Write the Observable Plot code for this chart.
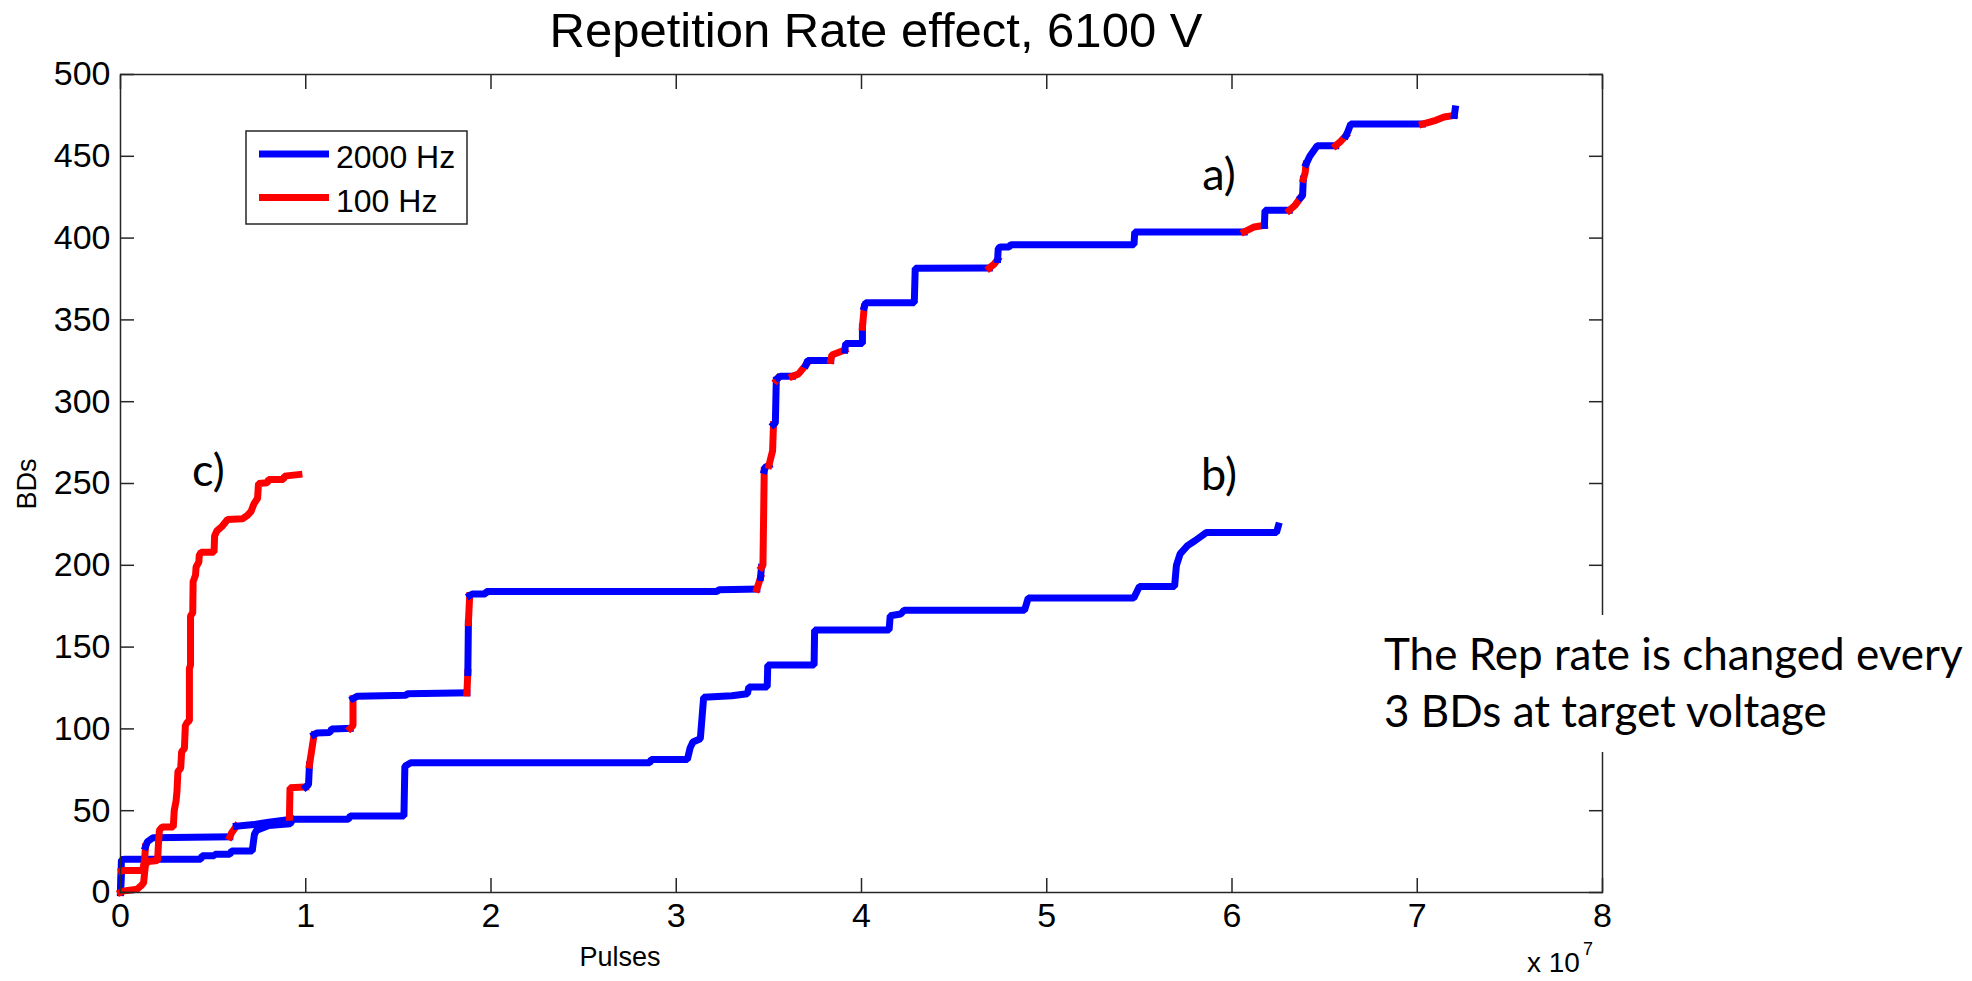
<!DOCTYPE html>
<html>
<head>
<meta charset="utf-8">
<script src="https://cdn.jsdelivr.net/npm/d3@7"></script>
<script src="https://cdn.jsdelivr.net/npm/@observablehq/plot@0.6"></script>
<style>
  html, body { margin: 0; padding: 0; background: #fff; }
  #chart { position: relative; width: 1972px; height: 981px; overflow: hidden; }
</style>
</head>
<body>
<div id="chart"></div>
<script>
// Repetition rates and their line colours
const rateLabels = ["2000 Hz", "100 Hz"];
const rateColors = ["#0000ff", "#ff0000"];

// Axis ticks
const xTicks = [0, 1, 2, 3, 4, 5, 6, 7, 8];
const yTicks = [0, 50, 100, 150, 200, 250, 300, 350, 400, 450, 500];

// Run a) — pulses (x 10^7), cumulative breakdowns, rep rate of the segment ending at each point
const aPulses = [0, 0.005, 0.02, 0.12, 0.13, 0.135, 0.145, 0.175, 0.59, 0.60, 0.625, 0.72, 0.80, 0.905, 0.912, 0.915, 1.00, 1.015, 1.02, 1.045, 1.06, 1.13, 1.14, 1.24, 1.255, 1.255, 1.28, 1.54, 1.55, 1.87, 1.875, 1.878, 1.885, 1.90, 1.97, 1.975, 3.22, 3.23, 3.435, 3.455, 3.46, 3.468, 3.475, 3.48, 3.50, 3.52, 3.525, 3.535, 3.54, 3.55, 3.56, 3.627, 3.66, 3.70, 3.71, 3.834, 3.84, 3.91, 3.915, 4.005, 4.005, 4.015, 4.023, 4.285, 4.29, 4.69, 4.715, 4.735, 4.738, 4.75, 4.797, 4.806, 5.471, 5.475, 6.066, 6.12, 6.175, 6.178, 6.309, 6.34, 6.372, 6.381, 6.385, 6.395, 6.40, 6.42, 6.46, 6.56, 6.585, 6.615, 6.625, 6.641, 7.028, 7.10, 7.145, 7.20, 7.205];
const aBDs = [0, 13, 13.5, 13.5, 20, 28, 31, 33.5, 34, 36.5, 40.5, 41.5, 43, 44.5, 46, 64, 64.5, 66, 78, 96.5, 97.5, 97.8, 100, 100.3, 102, 118.5, 120, 120.5, 121.5, 122, 134.5, 165, 181.5, 182.5, 182.5, 184, 184, 185, 185.5, 192.5, 198.8, 200, 258, 260, 261, 270, 286, 287, 313, 314.5, 315.5, 315.5, 317, 322.5, 325.2, 325.2, 328.6, 331.6, 335.5, 335.5, 345.6, 357.9, 360.5, 360.5, 381.5, 381.7, 384, 387, 393.6, 394.6, 394.6, 396, 396, 403.8, 403.8, 406.8, 407.8, 417, 417, 420, 425, 426, 436, 440, 445.3, 450, 456.5, 456.5, 459, 462.6, 465, 469.7, 469.7, 472, 474, 475, 479];
const aRate = [2000, 2000, 100, 100, 100, 100, 2000, 2000, 2000, 100, 100, 2000, 2000, 2000, 2000, 100, 100, 2000, 2000, 100, 2000, 2000, 2000, 2000, 100, 100, 2000, 2000, 2000, 2000, 100, 2000, 100, 2000, 2000, 2000, 2000, 2000, 2000, 100, 2000, 100, 100, 2000, 2000, 100, 100, 2000, 2000, 100, 2000, 2000, 100, 100, 2000, 2000, 100, 100, 2000, 2000, 2000, 100, 2000, 2000, 2000, 2000, 100, 100, 2000, 2000, 2000, 2000, 2000, 2000, 2000, 100, 100, 2000, 2000, 100, 100, 2000, 2000, 100, 100, 2000, 2000, 2000, 100, 100, 2000, 2000, 2000, 100, 100, 100, 2000];

// Run b) — 2000 Hz throughout
const bPulses = [0, 0.005, 0.024, 0.434, 0.44, 0.506, 0.51, 0.59, 0.60, 0.711, 0.723, 0.735, 0.77, 0.80, 0.916, 0.93, 1.23, 1.24, 1.53, 1.535, 1.567, 2.857, 2.865, 3.06, 3.075, 3.09, 3.13, 3.148, 3.30, 3.384, 3.392, 3.491, 3.494, 3.744, 3.747, 4.149, 4.155, 4.212, 4.23, 4.88, 4.9, 5.47, 5.5, 5.69, 5.70, 5.72, 5.76, 5.80, 5.85, 5.86, 6.24, 6.25];
const bBDs = [0, 20, 20.3, 20.3, 22.4, 22.4, 23.4, 23.4, 25.4, 25.4, 35.6, 38, 39.6, 41, 42, 44.7, 44.7, 46.7, 46.7, 77.2, 79.3, 79.3, 81.3, 81.3, 88.4, 92, 94, 119.3, 120.3, 121.5, 125.6, 125.6, 139, 139, 160.4, 160.4, 169.2, 170.2, 172.5, 172.5, 180, 180, 187, 187, 200, 207, 212, 215, 219, 220, 220, 224];
const bRate = 2000;

// Run c) — 100 Hz throughout
const cPulses = [0, 0.02, 0.09, 0.11, 0.125, 0.13, 0.135, 0.15, 0.2, 0.205, 0.21, 0.225, 0.285, 0.29, 0.3, 0.305, 0.31, 0.325, 0.33, 0.345, 0.35, 0.36, 0.372, 0.372, 0.378, 0.378, 0.39, 0.392, 0.405, 0.408, 0.423, 0.425, 0.435, 0.505, 0.508, 0.52, 0.55, 0.578, 0.66, 0.685, 0.705, 0.72, 0.74, 0.745, 0.792, 0.80, 0.88, 0.885, 0.963];
const cBDs = [0, 1, 2, 4, 6, 12, 17, 19, 19.5, 30, 38, 40, 40, 50, 56, 62, 74, 76, 86, 88, 102, 104, 105, 137, 139, 169, 171, 190, 194, 199, 202, 206, 208, 208, 218, 221, 224, 228, 228.5, 230.5, 233, 237.5, 241, 250, 250.5, 252.5, 252.5, 254.5, 255.5];
const cRate = 100;

// Curve labels
const curveNames = ["a)", "b)", "c)"];
const curveLabelPulses = [5.93, 5.93, 0.475];
const curveLabelBDs = [438, 255, 257];

// Split a curve into runs of constant rep rate (each run shares its first point with the previous run)
function toRuns(name, xs, ys, rates) {
  const rows = [];
  let run = -1, prev = null;
  for (let i = 1; i < xs.length; i++) {
    const r = Array.isArray(rates) ? rates[i] : rates;
    if (r !== prev) {
      run++;
      rows.push({run: `${name}-${run}`, rate: `${r} Hz`, pulses: xs[i - 1], bds: ys[i - 1]});
      prev = r;
    }
    rows.push({run: `${name}-${run}`, rate: `${r} Hz`, pulses: xs[i], bds: ys[i]});
  }
  return rows;
}

const rows = [
  ...toRuns("b", bPulses, bBDs, bRate),
  ...toRuns("a", aPulses, aBDs, aRate),
  ...toRuns("c", cPulses, cBDs, cRate)
];
const labels = curveNames.map((t, i) => ({text: t, pulses: curveLabelPulses[i], bds: curveLabelBDs[i]}));

const axisColor = "#262626";
const tick = 14;
const lineWidth = 7;

const svg = Plot.plot({
  width: 1972,
  height: 981,
  marginLeft: 120,
  marginRight: 370,
  marginTop: 74,
  marginBottom: 89,
  x: {domain: [0, 8]},
  y: {domain: [0, 500]},
  color: {domain: rateLabels, range: rateColors},
  style: {fontFamily: "'Liberation Sans', Arial, sans-serif", fontSize: "32px", color: "#000", background: "#fff"},
  marks: [
    Plot.line(rows, {x: "pulses", y: "bds", z: "run", stroke: "rate", strokeWidth: lineWidth, strokeLinejoin: "miter", strokeLinecap: "square"}),
    Plot.text(labels, {x: "pulses", y: "bds", text: "text", fontFamily: "Lato, sans-serif", fontSize: 45, fill: "#000"}),
    Plot.frame({stroke: axisColor, strokeWidth: 1.5}),
    // inward ticks on all four sides
    Plot.axisX({ticks: xTicks, anchor: "bottom", tickSize: tick, dy: -tick, fill: "none", stroke: axisColor, strokeWidth: 1.5, label: null}),
    Plot.axisX({ticks: xTicks, anchor: "top", tickSize: tick, dy: tick, fill: "none", stroke: axisColor, strokeWidth: 1.5, label: null}),
    Plot.axisY({ticks: yTicks, anchor: "left", tickSize: tick, dx: tick, fill: "none", stroke: axisColor, strokeWidth: 1.5, label: null}),
    Plot.axisY({ticks: yTicks, anchor: "right", tickSize: tick, dx: -tick, fill: "none", stroke: axisColor, strokeWidth: 1.5, label: null}),
    // tick labels
    Plot.axisX({ticks: xTicks, anchor: "bottom", tickSize: 0, tickPadding: 10, fontSize: 34, label: null}),
    Plot.axisY({ticks: yTicks, anchor: "left", tickSize: 0, tickPadding: 10, fontSize: 34, label: null})
  ]
});

document.getElementById("chart").appendChild(svg);

const g = d3.select(svg).append("g")
  .attr("font-family", "'Liberation Sans', Arial, sans-serif")
  .attr("fill", "#000")
  .attr("text-anchor", "start");

// Title
g.append("text").attr("x", 876).attr("y", 47).attr("text-anchor", "middle").attr("font-size", 49)
  .text("Repetition Rate effect, 6100 V");

// Axis labels
g.append("text").attr("x", 620).attr("y", 966).attr("text-anchor", "middle").attr("font-size", 27).text("Pulses");
g.append("text").attr("transform", "translate(36,484) rotate(-90)").attr("text-anchor", "middle").attr("font-size", 27).text("BDs");
const exp = g.append("text").attr("x", 1527).attr("y", 972).attr("font-size", 28).attr("text-anchor", "start");
exp.append("tspan").text("x 10");
exp.append("tspan").attr("font-size", 18).attr("dy", -17).attr("dx", 3).text("7");

// Legend
const lg = g.append("g").attr("text-anchor", "start");
lg.append("rect").attr("x", 246).attr("y", 131).attr("width", 221).attr("height", 93)
  .attr("fill", "#fff").attr("stroke", axisColor).attr("stroke-width", 1.5);
rateLabels.forEach((lab, i) => {
  const cy = 154 + i * 43.5;
  lg.append("line").attr("x1", 259).attr("x2", 329).attr("y1", cy).attr("y2", cy)
    .attr("stroke", rateColors[i]).attr("stroke-width", lineWidth);
  lg.append("text").attr("x", 336).attr("y", cy + 14).attr("font-size", 32).text(lab);
});

// Note beside the axes
const note = g.append("g").attr("font-family", "Lato, sans-serif").attr("font-size", 44).attr("text-anchor", "start");
note.append("rect").attr("x", 1375).attr("y", 615).attr("width", 597).attr("height", 137).attr("fill", "#fff");
note.append("text").attr("x", 1384).attr("y", 670).text("The Rep rate is changed every");
note.append("text").attr("x", 1384).attr("y", 727).text("3 BDs at target voltage");
</script>
</body>
</html>
